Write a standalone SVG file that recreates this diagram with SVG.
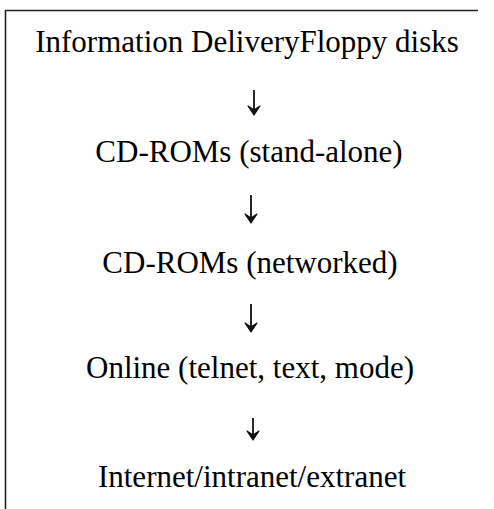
<svg xmlns="http://www.w3.org/2000/svg" width="494" height="509" viewBox="0 0 494 509">
<style>
text{font-family:'Liberation Serif','Times New Roman','DejaVu Serif',serif;font-size:31px;fill:#000;text-anchor:middle}
.c{stroke:#111;stroke-width:1.8;fill:none}
.h{fill:#111;stroke:#111;stroke-width:1.2;stroke-linejoin:round}
</style>
<rect width="494" height="509" fill="#fff"/>
<g id="frame">
<path d="M5.5 509 V10.5 H478" fill="none" stroke="#222" stroke-width="1.6"/>
</g>
<g id="n1"><text font-family="Liberation Serif, serif" x="247" y="52">Information DeliveryFloppy disks</text></g>
<g id="n2"><text font-family="Liberation Serif, serif" x="249" y="162">CD-ROMs (stand-alone)</text></g>
<g id="n3"><text font-family="Liberation Serif, serif" x="250" y="273">CD-ROMs (networked)</text></g>
<g id="n4"><text font-family="Liberation Serif, serif" x="250" y="378">Online (telnet, text, mode)</text></g>
<g id="n5"><text font-family="Liberation Serif, serif" x="252" y="487">Internet/intranet/extranet</text></g>
<g id="connectors">
<path class="c" d="M254 90 V113"/><path class="h" d="M248 106 L254 115 L260 106 L254 110 Z"/>
<path class="c" d="M251 195 V221"/><path class="h" d="M245 214 L251 223 L257 214 L251 218 Z"/>
<path class="c" d="M251 304 V330"/><path class="h" d="M245 323 L251 332 L257 323 L251 327 Z"/>
<path class="c" d="M253 418 V438"/><path class="h" d="M247 431 L253 440 L259 431 L253 435 Z"/>
</g>
</svg>
